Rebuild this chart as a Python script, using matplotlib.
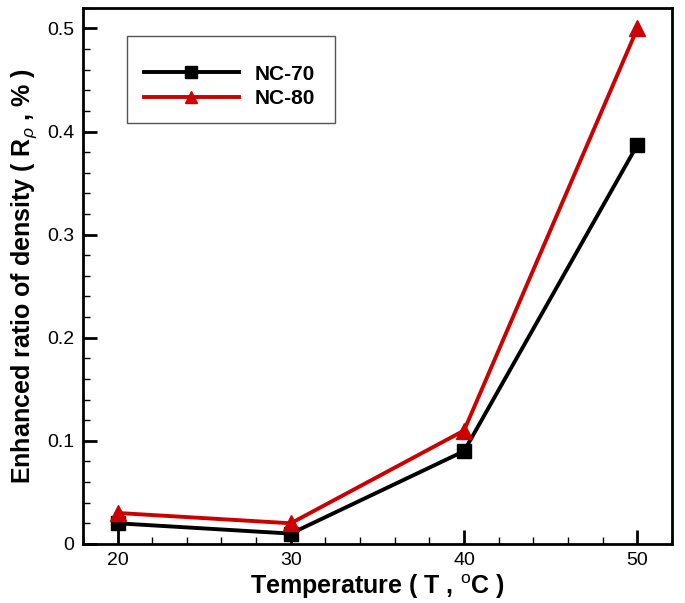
import matplotlib
matplotlib.use("Agg")
import matplotlib.pyplot as plt
from matplotlib.ticker import MultipleLocator
from matplotlib.patches import Rectangle

plt.rcParams['font.family'] = ['Liberation Sans', 'DejaVu Sans']
plt.rcParams['mathtext.fontset'] = 'custom'
plt.rcParams['mathtext.rm'] = 'Liberation Sans'
plt.rcParams['mathtext.it'] = 'Liberation Sans:italic'
plt.rcParams['mathtext.bf'] = 'Liberation Sans:bold'

temps = [20, 30, 40, 50]
nc70 = [0.020, 0.010, 0.090, 0.387]
nc80 = [0.030, 0.020, 0.110, 0.500]

fig = plt.figure(figsize=(6.85, 6.03), dpi=100)
ax = fig.add_axes([0.121, 0.098, 0.860, 0.889])

ax.plot(temps, nc70, color='black', lw=2.8, marker='s', ms=10, label='NC-70', zorder=3)
ax.plot(temps, nc80, color='#cc0000', lw=2.8, marker='^', ms=11, label='NC-80', zorder=3)

ax.set_xlim(18, 52)
ax.set_ylim(0, 0.52)
ax.xaxis.set_major_locator(MultipleLocator(10))
ax.xaxis.set_minor_locator(MultipleLocator(2))
ax.yaxis.set_minor_locator(MultipleLocator(0.02))
ax.set_yticks([0, 0.1, 0.2, 0.3, 0.4, 0.5])
ax.set_yticklabels(['0', '0.1', '0.2', '0.3', '0.4', '0.5'])
ax.tick_params(which='major', direction='in', length=10, width=2, labelsize=14, pad=6)
ax.tick_params(which='minor', direction='in', length=5, width=1)
for s in ax.spines.values():
    s.set_linewidth(2)

ax.set_xlabel('Temperature ( T , $^{\\mathrm{o}}$C )', fontsize=18, fontweight='bold', labelpad=2)
ax.set_ylabel('Enhanced ratio of density ( R$_{\\rho}$ , % )', fontsize=18, fontweight='bold', labelpad=6)

# legend frame box
ax.add_patch(Rectangle((0.0747, 0.7854), 0.353, 0.1623, transform=ax.transAxes,
                       facecolor='white', edgecolor='#555555', lw=1, zorder=4))
leg = ax.legend(loc='upper left', bbox_to_anchor=(0.0747, 0.925),
                prop={'weight': 'bold', 'size': 15}, frameon=False,
                handlelength=4.6, handletextpad=0.75, borderpad=0.8, labelspacing=0.25,
                borderaxespad=0)
leg.set_zorder(5)
for h in leg.legend_handles:
    h.set_markersize(9)

fig.savefig('out.png', dpi=100)
